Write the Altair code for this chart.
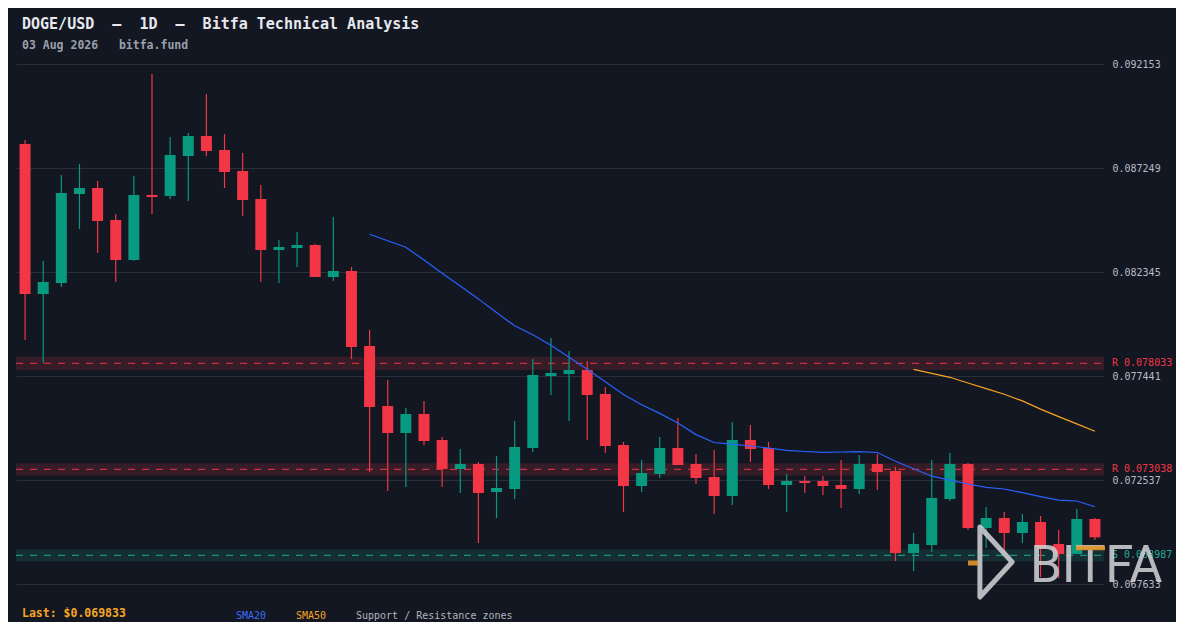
import altair as alt
import pandas as pd

# ---------------- data ----------------
opens = [0.088381, 0.081308, 0.081826, 0.086023, 0.086306, 0.084797, 0.082911, 0.085976, 0.085929, 0.087815,
         0.088758, 0.088098, 0.087108, 0.085787, 0.083382, 0.083477, 0.083618, 0.082109, 0.082392, 0.078856,
         0.076026, 0.074753, 0.075649, 0.074423, 0.073056, 0.073291, 0.071971, 0.072113, 0.074046, 0.077441,
         0.077535, 0.077724, 0.076592, 0.074187, 0.072254, 0.072820, 0.074046, 0.073291, 0.072678, 0.071783,
         0.074423, 0.074046, 0.072301, 0.072490, 0.072490, 0.072301, 0.072113, 0.073291, 0.072961, 0.069095,
         0.069472, 0.071641, 0.073291, 0.070274, 0.070745, 0.070038, 0.070557, 0.069519, 0.069048, 0.070698]
highs = [0.088569, 0.082864, 0.086919, 0.087438, 0.086636, 0.085080, 0.086872, 0.091682, 0.088711, 0.088899,
         0.090738, 0.088852, 0.087956, 0.086447, 0.083854, 0.084231, 0.083665, 0.084938, 0.082581, 0.079610,
         0.077252, 0.075932, 0.076262, 0.074565, 0.073999, 0.073386, 0.073669, 0.075319, 0.078243, 0.079233,
         0.078620, 0.078148, 0.076922, 0.074329, 0.073480, 0.074565, 0.075460, 0.073763, 0.073952, 0.075272,
         0.075130, 0.074329, 0.072820, 0.072726, 0.072726, 0.073480, 0.073716, 0.073763, 0.073150, 0.070038,
         0.073480, 0.073810, 0.073339, 0.071264, 0.071028, 0.070934, 0.070839, 0.070179, 0.071170, 0.070745]
lows = [0.079139, 0.078054, 0.081638, 0.084373, 0.083241, 0.081873, 0.082864, 0.085080, 0.085787, 0.085693,
        0.087815, 0.086306, 0.084986, 0.081873, 0.081826, 0.082581, 0.082109, 0.081921, 0.078243, 0.072914,
        0.072018, 0.072207, 0.074187, 0.072207, 0.071924, 0.069566, 0.070745, 0.071641, 0.073857, 0.076545,
        0.075319, 0.074423, 0.073810, 0.071028, 0.071971, 0.072631, 0.073244, 0.072348, 0.070934, 0.071358,
        0.073386, 0.072113, 0.071028, 0.071924, 0.071830, 0.071217, 0.071877, 0.072065, 0.068718, 0.068246,
        0.069142, 0.071547, 0.070179, 0.069330, 0.069095, 0.069566, 0.067963, 0.067916, 0.069048, 0.069708]
closes = [0.081308, 0.081873, 0.086070, 0.086306, 0.084750, 0.082911, 0.085976, 0.085882, 0.087862, 0.088758,
          0.088051, 0.087060, 0.085740, 0.083382, 0.083524, 0.083618, 0.082109, 0.082392, 0.078808, 0.075979,
          0.074753, 0.075649, 0.074376, 0.073056, 0.073291, 0.071924, 0.072160, 0.074093, 0.077488, 0.077582,
          0.077724, 0.076545, 0.074140, 0.072254, 0.072867, 0.074046, 0.073244, 0.072631, 0.071783, 0.074423,
          0.073999, 0.072301, 0.072490, 0.072396, 0.072254, 0.072113, 0.073291, 0.072914, 0.069095, 0.069519,
          0.071688, 0.073291, 0.070274, 0.070745, 0.070038, 0.070557, 0.069330, 0.069048, 0.070698, 0.069833]

sma20_start = 19
sma20 = [0.084123, 0.083816, 0.083510, 0.082906, 0.082284, 0.081690, 0.081077, 0.080431, 0.079808, 0.079384,
         0.078889, 0.078323, 0.077757, 0.077168, 0.076569, 0.076083, 0.075677, 0.075225, 0.074678, 0.074305,
         0.074225, 0.074140, 0.074046, 0.073937, 0.073881, 0.073843, 0.073857, 0.073871, 0.073834, 0.073424,
         0.073070, 0.072716, 0.072528, 0.072348, 0.072193, 0.072113, 0.071938, 0.071754, 0.071589, 0.071547,
         0.071278]
sma50_start = 49
sma50 = [0.077757, 0.077568, 0.077380, 0.077111, 0.076847, 0.076583, 0.076267, 0.075880, 0.075527, 0.075182,
         0.074838]

tick_values = [0.067633, 0.072537, 0.077441, 0.082345, 0.087249, 0.092153]

zone_kinds = ["R", "R", "S"]
zone_levels = [0.078033, 0.073038, 0.068987]
zone_lows = [0.077721, 0.072746, 0.068711]
zone_highs = [0.078345, 0.073330, 0.069263]

last_price = 0.069833
NB = "\u00a0"
title_text = f"DOGE/USD{NB}{NB}\u2013{NB}{NB}1D{NB}{NB}\u2013{NB}{NB}Bitfa Technical Analysis"
subtitle_text = f"03 Aug 2026{NB}{NB}{NB}bitfa.fund"
legend_items = ["SMA20", "SMA50", "Support / Resistance zones"]

# ---------------- styling ----------------
BG = "#131722"
GREEN = "#089981"
RED = "#f23645"
SUP = "#22ab94"
BLUE = "#2962ff"
ORANGE = "#f5a524"
GRID = "#2a2e39"
MONO = "DejaVu Sans Mono"
W, H = 1088, 520

n = len(opens)
idx = list(range(n))
candles = pd.DataFrame({
    "i": idx, "o": opens, "h": highs, "l": lows, "c": closes,
    "col": [GREEN if c >= o else RED for o, c in zip(opens, closes)],
})
s20 = pd.DataFrame({"i": list(range(sma20_start, sma20_start + len(sma20))), "v": sma20})
s50 = pd.DataFrame({"i": list(range(sma50_start, sma50_start + len(sma50))), "v": sma50})
zones = pd.DataFrame({
    "kind": zone_kinds, "level": zone_levels, "lo": zone_lows, "hi": zone_highs,
    "label": [f"{k} {lv:.6f}" for k, lv in zip(zone_kinds, zone_levels)],
    "col": [RED if k == "R" else SUP for k in zone_kinds],
})

xs = alt.Scale(type="band", domain=idx, paddingInner=0, paddingOuter=0)
ys = alt.Scale(domain=[tick_values[0], tick_values[-1]], nice=False, zero=False)
yaxis = alt.Axis(values=tick_values, format=".6f", orient="right", title=None,
                 grid=True, gridColor=GRID, gridWidth=1, domain=False, ticks=False,
                 labelPadding=8, labelFont=MONO, labelFontSize=10, labelColor="#b8bbc4")
X = alt.X("i:O", scale=xs, axis=None)
COL = alt.Color("col:N", scale=None, legend=None)

zone_rect = alt.Chart(zones).mark_rect(opacity=0.16).encode(
    x=alt.value(0), x2=alt.value(W),
    y=alt.Y("lo:Q", scale=ys, axis=yaxis), y2="hi:Q", color=COL)
zone_line = alt.Chart(zones).mark_rule(strokeDash=[7, 7], strokeWidth=1.3, opacity=0.8).encode(
    x=alt.value(0), x2=alt.value(W),
    y=alt.Y("level:Q", scale=ys, axis=yaxis), color=COL)

wicks = alt.Chart(candles).mark_rule(strokeWidth=1.2).encode(
    x=X, y=alt.Y("l:Q", scale=ys, axis=yaxis), y2="h:Q", color=COL)
bodies = alt.Chart(candles).mark_bar(size=11).encode(
    x=X, y=alt.Y("o:Q", scale=ys, axis=yaxis), y2="c:Q", color=COL)

line20 = alt.Chart(s20).mark_line(color=BLUE, strokeWidth=1.2).encode(
    x=X, y=alt.Y("v:Q", scale=ys, axis=yaxis))
line50 = alt.Chart(s50).mark_line(color=ORANGE, strokeWidth=1.2).encode(
    x=X, y=alt.Y("v:Q", scale=ys, axis=yaxis))

zone_labels = alt.Chart(zones).mark_text(align="left", baseline="middle", font=MONO, fontSize=10).encode(
    x=alt.value(W + 8), y=alt.Y("level:Q", scale=ys, axis=yaxis), text="label:N", color=COL)


def label(txt, x, y, size, color, weight="normal", font=MONO, **kw):
    return alt.Chart(pd.DataFrame({"t": [txt]})).mark_text(
        align="left", baseline="alphabetic", font=font, fontSize=size, fontWeight=weight,
        color=color, **kw).encode(x=alt.value(x), y=alt.value(y), text="t:N")


title = label(title_text, 6, -35, 15, "#e6e8ee", "bold")
subtitle = label(subtitle_text, 6, -15, 11.5, "#9aa0ab", "bold")
last_lbl = label(f"Last: ${last_price:.6f}", 6, 553, 11.5, ORANGE, "bold")
leg1 = label(legend_items[0], 220, 555, 10, "#3d6bff")
leg2 = label(legend_items[1], 280, 555, 10, ORANGE)
leg3 = label(legend_items[2], 340, 555, 10, "#b2b5be")

# watermark logo
LOGO = "#cfd0d3"
logo_tri = alt.Chart(pd.DataFrame({"t": [0]})).mark_point(
    shape="M -0.46 -1 L 0.46 0 L -0.46 1 Z", filled=False, size=4900,
    stroke=LOGO, strokeWidth=5, opacity=0.88, strokeJoin="round").encode(
    x=alt.value(980), y=alt.value(498))
logo_dash1 = alt.Chart(pd.DataFrame({"t": [0]})).mark_rule(color="#e0962a", strokeWidth=5, opacity=0.9).encode(
    x=alt.value(952), x2=alt.value(962), y=alt.value(499))
logo_txt = label("BITFA", 1014, 518, 51, LOGO, "normal", font="Roboto", opacity=0.88)
logo_dash2 = alt.Chart(pd.DataFrame({"t": [0]})).mark_rule(color="#e0962a", strokeWidth=4.5, opacity=0.9).encode(
    x=alt.value(1060), x2=alt.value(1089), y=alt.value(484))

chart = alt.layer(
    zone_rect, zone_line, wicks, bodies, line20, line50, zone_labels,
    title, subtitle, last_lbl, leg1, leg2, leg3,
    logo_tri, logo_dash1, logo_txt, logo_dash2,
).properties(
    width=W, height=H, autosize="none",
    padding={"left": 8, "top": 56, "right": 72, "bottom": 38},
).configure(background=BG).configure_view(strokeWidth=0)

chart.save("out.html", embed_options={"renderer": "svg", "actions": False})
